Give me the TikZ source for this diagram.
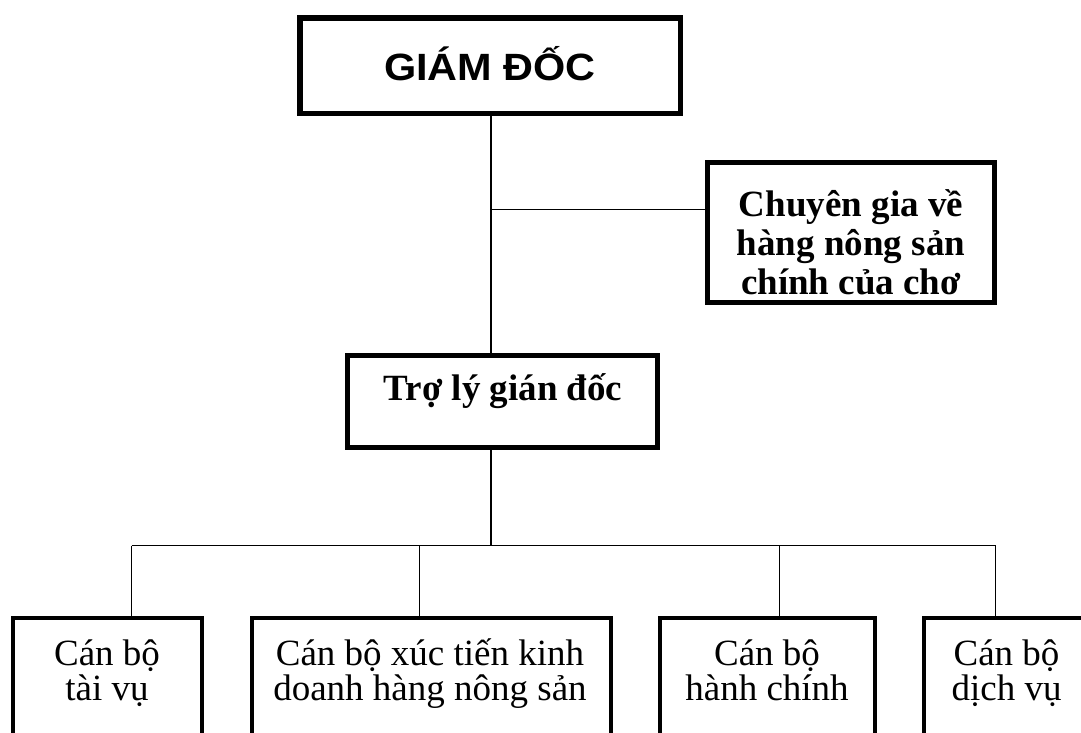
\documentclass[tikz,border=0pt]{standalone}
\usepackage{fontspec}
\usepackage{graphicx}
\setmainfont{Liberation Serif}
\newfontfamily\headfont{Liberation Sans}
\begin{document}
\begin{tikzpicture}[x=1pt,y=-1pt,
  box/.style={draw,rectangle,inner sep=0pt,outer sep=0pt,line width=#1},
  box/.default=4.5pt,
  conn/.style={draw,line width=1.3pt},
  lbl/.style={anchor=base,inner sep=0pt,font=\fontsize{37}{37}\selectfont},
  blbl/.style={anchor=base,inner sep=0pt,font=\fontsize{37}{37}\selectfont\bfseries}]
\useasboundingbox (0,0) rectangle (1081,732);
\clip (0,0) rectangle (1081,732);
\fill[white] (0,0) rectangle (1081,732);
% boxes
\node[box=5.5pt,minimum width=380.5pt,minimum height=95.5pt] (gd) at (490.25,65.75) {};
\node[box=5pt,minimum width=286.5pt,minimum height=140pt] (cg) at (850.75,232.5) {};
\node[box=5pt,minimum width=310pt,minimum height=92.5pt] (tl) at (502.5,401.25) {};
\node[box=4pt,minimum width=189.5pt,minimum height=161.7pt] (b1) at (107.25,699.15) {};
\node[box=4pt,minimum width=358.8pt,minimum height=161.7pt] (b2) at (431.1,699.15) {};
\node[box=4pt,minimum width=215.5pt,minimum height=161.7pt] (b3) at (767.25,699.15) {};
\node[box=4pt,minimum width=165pt,minimum height=161.7pt] (b4) at (1006.5,699.15) {};
% texts
\node[anchor=base,inner sep=0pt,font=\headfont\bfseries\fontsize{38}{38}\selectfont] (gdt) at (490,80) {\scalebox{1.09}[1]{GIÁM ĐỐC}};
\node[blbl] (cg1) at (851,216) {Chuyên gia về};
\node[blbl] (cg2) at (851,255.5) {hàng nông sản};
\node[blbl] (cg3) at (851,294.5) {chính của chơ};
\node[blbl] (tlt) at (503,400) {Trợ lý gián đốc};
\node[lbl] (b1a) at (107,665) {Cán bộ};
\node[lbl] (b1b) at (107,700) {tài vụ};
\node[lbl] (b2a) at (430,665) {Cán bộ xúc tiến kinh};
\node[lbl] (b2b) at (430,700) {doanh hàng nông sản};
\node[lbl] (b3a) at (767,665) {Cán bộ};
\node[lbl] (b3b) at (767,700) {hành chính};
\node[lbl] (b4a) at (1006.5,665) {Cán bộ};
\node[lbl] (b4b) at (1006.5,700) {dịch vụ};
% connectors
\coordinate (spine) at (491,209.3);
\coordinate (bus) at (491,545.7);
\coordinate (d1) at (131.7,545.7);
\coordinate (d2) at (419.3,545.7);
\coordinate (d3) at (779.3,545.7);
\coordinate (d4) at (995.7,545.7);
\draw[conn] (gd.south -| spine) -- (spine) -- (tl.north -| spine);
\draw[conn] (spine) -- (spine -| cg.west);
\draw[conn] (tl.south -| bus) -- (bus);
\draw[conn] (d1) -- (d4);
\draw[conn] (d1) -- (d1 |- b1.north);
\draw[conn] (d2) -- (d2 |- b2.north);
\draw[conn] (d3) -- (d3 |- b3.north);
\draw[conn] (d4) -- (d4 |- b4.north);
\end{tikzpicture}
\end{document}
